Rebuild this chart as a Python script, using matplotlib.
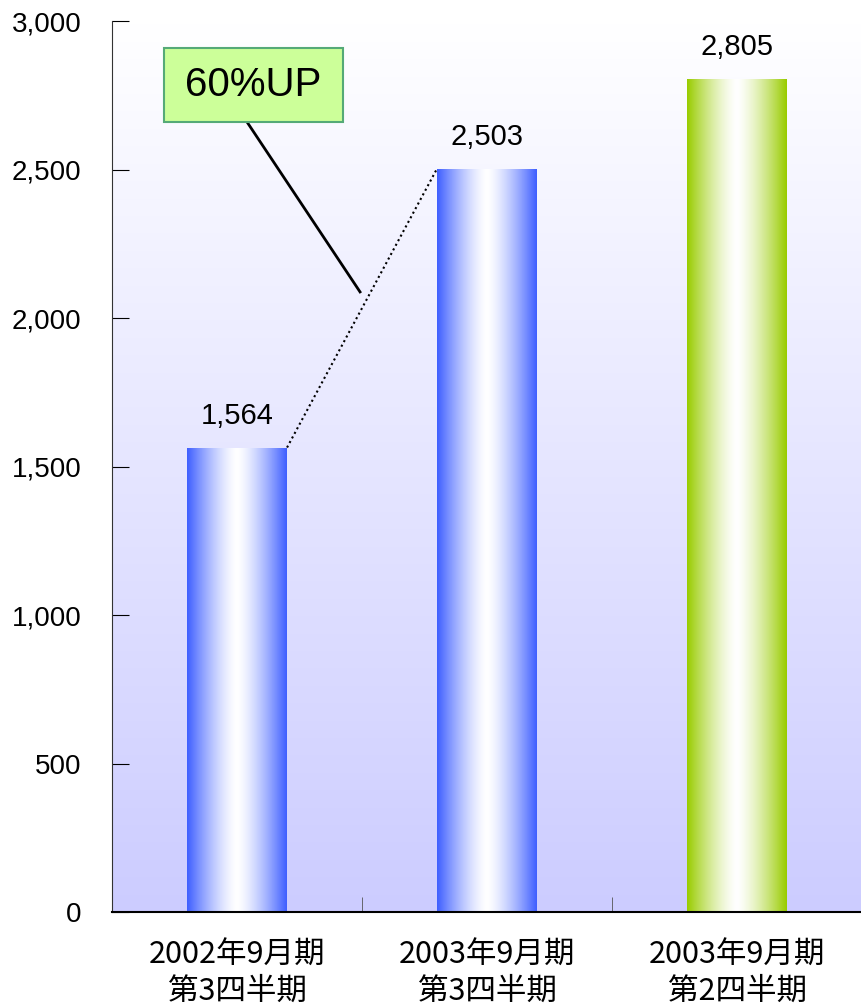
import numpy as np
import matplotlib
matplotlib.use("Agg")
import matplotlib.pyplot as plt
from matplotlib.colors import LinearSegmentedColormap
from matplotlib.patches import Rectangle
from matplotlib.ticker import FuncFormatter

plt.rcParams['font.family'] = ['Noto Sans CJK JP', 'DejaVu Sans']

# data
categories = ["2002年9月期\n第3四半期", "2003年9月期\n第3四半期", "2003年9月期\n第2四半期"]
values = [1564, 2503, 2805]
bar_colors = ["#3f5fff", "#3f5fff", "#99cc00"]
callout_text = "60%UP"

fig = plt.figure(figsize=(8.62, 10.07), dpi=100)
ax = fig.add_axes([0.130, 0.0943, 0.870, 0.8848])

x = np.arange(len(categories))
width = 0.4
ax.set_xlim(-0.5, len(categories) - 0.5)
ax.set_ylim(0, 3000)

# background gradient white -> lavender
bg = np.linspace(0, 1, 256).reshape(-1, 1)
bg_cmap = LinearSegmentedColormap.from_list("bg", ["#ccccff", "#ffffff"])
ax.imshow(bg, cmap=bg_cmap, aspect="auto", origin="lower",
          extent=[-0.5, len(categories) - 0.5, 0, 3000], zorder=0)

# bars with horizontal cylinder-like gradient
bars = ax.bar(x, values, width=width, color="none", edgecolor="none", zorder=2)
prof = np.linspace(-1, 1, 200)
t = np.clip(np.abs(prof) ** 1.4, 0, 1).reshape(1, -1)
for b, c, v in zip(bars, bar_colors, values):
    cmap = LinearSegmentedColormap.from_list("b", ["#ffffff", c])
    im = ax.imshow(t, cmap=cmap, vmin=0, vmax=1, aspect="auto",
                   extent=[b.get_x(), b.get_x() + b.get_width(), 0, v], zorder=2)
    im.set_clip_path(b)
    ax.text(b.get_x() + b.get_width() / 2, v + 60, f"{v:,}",
            ha="center", va="bottom", fontsize=21, family="Liberation Sans")

# dotted connector between bar 1 and bar 2
ax.plot([x[0] + width / 2, x[1] - width / 2], [values[0], values[1]],
        linestyle=(0, (1, 1.5)), color="black", lw=1.5, zorder=3)

# callout box
ax.add_patch(Rectangle((-0.292, 2660), 0.716, 249, facecolor="#ccff99",
                       edgecolor="#55aa77", lw=1.5, zorder=4))
ax.text(0.066, 2784, callout_text, ha="center", va="center", fontsize=29,
        family="Liberation Sans", zorder=5)
ax.plot([0.04, 0.492], [2660, 2088], color="black", lw=2, zorder=3)

# axes styling
for s in ["top", "right"]:
    ax.spines[s].set_visible(False)
ax.spines["left"].set_color("#333333")
ax.spines["bottom"].set_color("black")
ax.spines["bottom"].set_linewidth(1.5)

ax.set_yticks(np.arange(0, 3001, 500))
ax.yaxis.set_major_formatter(FuncFormatter(lambda v, p: f"{int(v):,}"))
ax.tick_params(axis="y", direction="in", length=12, labelsize=20, pad=22)
for lab in ax.get_yticklabels():
    lab.set_family("Liberation Sans")

ax.set_xticks(x)
ax.set_xticklabels(categories, fontsize=22, linespacing=1.2)
ax.tick_params(axis="x", length=0, pad=20)
ax.set_xticks(x[:-1] + 0.5, minor=True)
ax.tick_params(axis="x", which="minor", direction="in", length=11, color="#555555")

fig.savefig("out.png", dpi=100)
